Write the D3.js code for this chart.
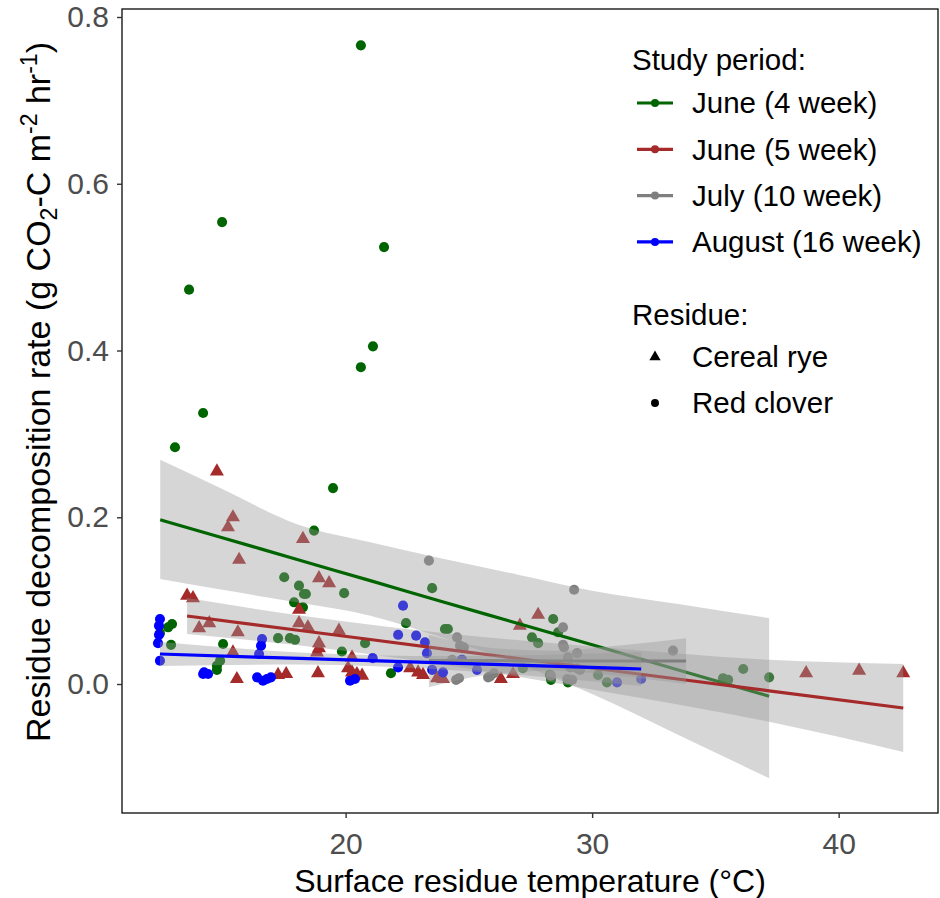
<!DOCTYPE html>
<html>
<head>
<meta charset="utf-8">
<script src="https://cdn.jsdelivr.net/npm/d3@7"></script>
<style>
  body { margin: 0; background: #fff; }
  text { font-family: "Liberation Sans", Arial, sans-serif; }
</style>
</head>
<body>
<svg id="chart" width="940" height="898"></svg>
<script>
// study periods and residues
const periods = ["June (4 week)", "June (5 week)", "July (10 week)", "August (16 week)"];
const periodColors = ["#006400", "#a52a2a", "#7f7f7f", "#0000ff"];
const residues = ["Cereal rye", "Red clover"];

// June (4 week) - red clover
const june4_temp = [20.62,14.99,13.65,21.56,21.11,20.62,14.22,13.08,19.49,18.72,17.51,18.11,18.31,18.39,17.91,18.27,17.26,17.74,17.95,12.96,12.80,12.47,12.92,15.03,14.91,14.78,14.78,19.94,19.85,20.79,23.51,22.45,24.03,24.15,21.84,28.42,27.56,27.81,28.62,27.19,28.29,28.33,29.02,30.60,30.24,35.31,35.52,36.13,37.18];
const june4_rate = [0.766,0.554,0.473,0.524,0.405,0.380,0.325,0.284,0.235,0.184,0.128,0.118,0.108,0.108,0.098,0.092,0.055,0.055,0.053,0.072,0.068,0.061,0.047,0.048,0.028,0.022,0.017,0.109,0.039,0.049,0.115,0.073,0.066,0.066,0.013,0.078,0.056,0.049,0.062,0.019,0.011,0.005,0.002,0.002,0.011,0.007,0.005,0.018,0.008];

// June (5 week) - cereal rye
const june5_temp = [14.78,15.43,15.23,15.68,18.27,18.92,19.33,18.11,18.11,18.47,19.73,18.92,18.92,18.84,15.43,13.57,13.81,14.06,14.47,15.63,15.59,17.26,17.59,18.88,20.10,20.26,20.46,20.67,20.26,22.62,22.94,23.14,23.71,23.95,27.07,27.81,26.30,26.79,38.68,40.83,42.62];
const june5_rate = [0.255,0.200,0.188,0.149,0.174,0.127,0.121,0.089,0.073,0.068,0.064,0.049,0.043,0.038,0.038,0.106,0.103,0.067,0.073,0.062,0.006,0.011,0.012,0.013,0.019,0.014,0.012,0.010,0.032,0.019,0.014,0.011,0.007,0.006,0.070,0.083,0.006,0.012,0.013,0.016,0.013];

// July (10 week) - red clover
const july_temp = [23.38,29.27,33.28,24.52,24.64,24.80,28.82,28.82,28.86,29.02,29.39,29.11,29.39,25.78,26.02,28.99,29.19,24.48,24.60,24.32,29.51,28.33,24.72,25.86];
const july_rate = [0.148,0.113,0.040,0.056,0.046,0.044,0.068,0.047,0.044,0.032,0.037,0.020,0.019,0.008,0.013,0.006,0.005,0.005,0.007,0.029,0.017,0.010,0.029,0.009];

// August (16 week) - red clover
const aug_temp = [12.47,12.43,12.43,12.39,12.47,14.26,14.42,14.22,16.61,16.57,16.49,16.41,16.65,16.81,16.97,22.33,22.13,22.86,23.22,23.30,21.10,22.13,20.18,20.38,23.51,23.95,24.72,25.33,31.01,31.99];
const aug_rate = [0.078,0.070,0.059,0.049,0.028,0.014,0.012,0.012,0.054,0.046,0.036,0.008,0.004,0.006,0.008,0.094,0.059,0.058,0.050,0.037,0.031,0.020,0.004,0.006,0.017,0.014,0.029,0.017,0.002,0.006];

// fitted lines with confidence bands
const june4_fitT = [12.48, 15, 18, 21, 24, 27, 30, 33.5, 37.18];
const june4_fit  = [0.197, 0.1755, 0.1496, 0.124, 0.098, 0.0726, 0.047, 0.0169, -0.0146];
const june4_lo   = [0.126, 0.113, 0.098, 0.082, 0.055, 0.024, -0.012, -0.061, -0.113];
const june4_hi   = [0.269, 0.234, 0.192, 0.170, 0.150, 0.131, 0.112, 0.096, 0.079];

const june5_fitT = [13.57, 18.15, 24.24, 30.32, 37.18, 42.62];
const june5_fit  = [0.0816, 0.0642, 0.0410, 0.0180, -0.0082, -0.0288];
const june5_lo   = [0.0600, 0.0462, 0.0218, -0.0084, -0.0453, -0.0815];
const june5_hi   = [0.1031, 0.0822, 0.0602, 0.0444, 0.0290, 0.0240];

const july_fitT = [23.38, 26, 28.5, 31, 33.81];
const july_fit  = [0.028, 0.028, 0.0276, 0.0276, 0.0276];
const july_lo   = [-0.004, 0.012, 0.016, 0.010, 0.000];
const july_hi   = [0.059, 0.043, 0.040, 0.046, 0.055];

const aug_fitT = [12.47, 18.15, 24.24, 31.99];
const aug_fit  = [0.036, 0.0307, 0.0251, 0.018];
const aug_lo   = [0.0216, 0.0235, 0.0167, -0.0024];
const aug_hi   = [0.0504, 0.0379, 0.0335, 0.0384];

const xTicks = [20, 30, 40];
const yTicks = [0.0, 0.2, 0.4, 0.6, 0.8];

const groups = [
    {temp: june4_temp, rate: june4_rate, residue: "Red clover", fitT: june4_fitT, fit: june4_fit, lo: june4_lo, hi: june4_hi},
    {temp: june5_temp, rate: june5_rate, residue: "Cereal rye", fitT: june5_fitT, fit: june5_fit, lo: june5_lo, hi: june5_hi},
    {temp: july_temp, rate: july_rate, residue: "Red clover", fitT: july_fitT, fit: july_fit, lo: july_lo, hi: july_hi},
    {temp: aug_temp, rate: aug_rate, residue: "Red clover", fitT: aug_fitT, fit: aug_fit, lo: aug_lo, hi: aug_hi}
];
groups.forEach((g, i) => { g.name = periods[i]; g.color = periodColors[i]; });

//layout
const panel = {left: 122, right: 938, top: 9, bottom: 813};
const tickFont = 30, legendFont = 29.5, titleFont = 32, yTitleFont = 34;

const svg = d3.select("#chart");

const x = d3.scaleLinear().domain([10.93, 44.03]).range([panel.left, panel.right]);
const y = d3.scaleLinear().domain([-0.1547, 0.8096]).range([panel.bottom, panel.top]);

const shapeOf = r => r === "Cereal rye" ? d3.symbolTriangle : d3.symbolCircle;

// points
const pts = svg.append("g");
groups.forEach(g => {
    const rows = g.temp.map((t, i) => ({t: t, r: g.rate[i]}));
    pts.selectAll(null).data(rows).enter().append("path")
        .attr("transform", d => `translate(${x(d.t)},${y(d.r)})`)
        .attr("d", d3.symbol(shapeOf(g.residue), g.residue === "Cereal rye" ? 85 : 80))
        .attr("fill", g.color);
});

// smooths: ribbon then line, group by group
const area = d3.area()
    .x(d => x(d.t)).y0(d => y(d.lo)).y1(d => y(d.hi))
    .curve(d3.curveMonotoneX);
const line = d3.line().x(d => x(d.t)).y(d => y(d.f)).curve(d3.curveMonotoneX);

groups.forEach(g => {
    const rows = g.fitT.map((t, i) => ({t: t, f: g.fit[i], lo: g.lo[i], hi: g.hi[i]}));
    svg.append("path").datum(rows).attr("d", area)
        .attr("fill", "#999999").attr("fill-opacity", 0.4);
    svg.append("path").datum(rows).attr("d", line)
        .attr("fill", "none").attr("stroke", g.color).attr("stroke-width", 3.2);
});

// panel border
svg.append("rect")
    .attr("x", panel.left).attr("y", panel.top)
    .attr("width", panel.right - panel.left).attr("height", panel.bottom - panel.top)
    .attr("fill", "none").attr("stroke", "#1a1a1a").attr("stroke-width", 1.4);

// axes
const yAxis = svg.append("g").attr("transform", `translate(${panel.left},0)`)
    .call(d3.axisLeft(y).tickValues(yTicks).tickFormat(d3.format(".1f")).tickSize(5).tickPadding(8));
const xAxis = svg.append("g").attr("transform", `translate(0,${panel.bottom})`)
    .call(d3.axisBottom(x).tickValues(xTicks).tickFormat(d3.format("d")).tickSize(5).tickPadding(15));
[yAxis, xAxis].forEach(a => {
    a.select(".domain").remove();
    a.selectAll(".tick line").attr("stroke", "#333333").attr("stroke-width", 1.4);
    a.selectAll(".tick text").attr("fill", "#4d4d4d").style("font-size", tickFont + "px")
        .style("font-family", "'Liberation Sans', Arial, sans-serif");
});

// axis titles
svg.append("text")
    .attr("x", (panel.left + panel.right) / 2).attr("y", 892)
    .attr("text-anchor", "middle").style("font-size", titleFont + "px")
    .text("Surface residue temperature (\u00B0C)");

const yt = svg.append("text")
    .attr("transform", "translate(50,392) rotate(-90)")
    .attr("text-anchor", "middle").style("font-size", yTitleFont + "px");
yt.append("tspan").text("Residue decomposition rate (g CO");
yt.append("tspan").attr("dy", 7).style("font-size", "23px").text("2");
yt.append("tspan").attr("dy", -7).text("-C m");
yt.append("tspan").attr("dy", -13).style("font-size", "23px").text("-2");
yt.append("tspan").attr("dy", 13).text(" hr");
yt.append("tspan").attr("dy", -13).style("font-size", "23px").text("-1");
yt.append("tspan").attr("dy", 13).text(")");

// legend
const leg = svg.append("g");
leg.append("text").attr("x", 632).attr("y", 70).style("font-size", legendFont + "px").text("Study period:");
periods.forEach((p, i) => {
    const cy = 103 + i * 46.3;
    leg.append("line").attr("x1", 637).attr("x2", 673).attr("y1", cy).attr("y2", cy)
        .attr("stroke", periodColors[i]).attr("stroke-width", 3.2);
    leg.append("circle").attr("cx", 655).attr("cy", cy).attr("r", 4).attr("fill", periodColors[i]);
    leg.append("text").attr("x", 692).attr("y", cy).attr("dy", "0.35em")
        .style("font-size", legendFont + "px").text(p);
});
leg.append("text").attr("x", 632).attr("y", 315).attr("dy", "0.35em").style("font-size", legendFont + "px").text("Residue:");
residues.forEach((r, i) => {
    const cy = 357 + i * 46;
    leg.append("path").attr("transform", `translate(655,${cy})`)
        .attr("d", d3.symbol(shapeOf(r), r === "Cereal rye" ? 55 : 50)).attr("fill", "#000");
    leg.append("text").attr("x", 692).attr("y", cy).attr("dy", "0.35em")
        .style("font-size", legendFont + "px").text(r);
});
</script>
</body>
</html>
